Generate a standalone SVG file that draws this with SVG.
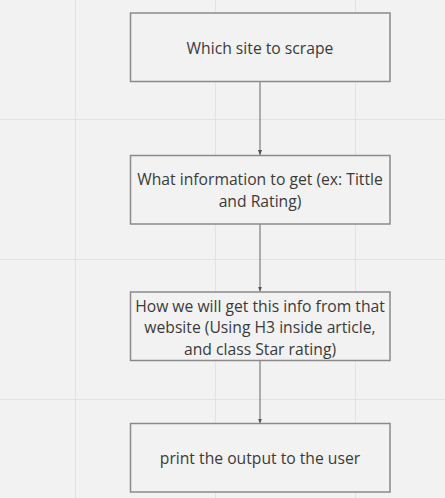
<svg xmlns="http://www.w3.org/2000/svg" width="445" height="498" viewBox="0 0 445 498">
<defs>
<style>
.grid{stroke:#e2e2e2;stroke-width:1;fill:none}
.box{fill:#f2f2f2;stroke:#8a8a8a;stroke-width:1.5}
.lbl{font-family:"Open Sans","Noto Sans",sans-serif;font-size:15.7px;fill:#3a3a3a;text-anchor:middle}
.edge{stroke:#666;stroke-width:1;fill:none;marker-end:url(#arr)}
</style>
<marker id="arr" viewBox="0 0 6 6" refX="6" refY="3" markerWidth="5" markerHeight="5" markerUnits="userSpaceOnUse" orient="auto">
<path d="M0,0.5 L6,3 L0,5.5 z" fill="#555"/>
</marker>
</defs>
<rect width="445" height="498" fill="#f2f2f2"/>
<g id="grid">
<path class="grid" d="M75.5,0V498M215.5,0V498M355.5,0V498M0,119.5H445M0,259.5H445M0,399.5H445"/>
</g>
<g id="connectors">
<path class="edge" d="M260,82V155"/>
<path class="edge" d="M260,224V291.5"/>
<path class="edge" d="M260,361V423.5"/>
</g>
<g id="n1">
<rect class="box" x="130.5" y="13" width="259.5" height="68.5"/>
<text class="lbl" x="260" y="54">Which site to scrape</text>
</g>
<g id="n2">
<rect class="box" x="130.5" y="155.5" width="259.5" height="68.5"/>
<text class="lbl" x="260" y="185">What information to get (ex: Tittle</text>
<text class="lbl" x="260" y="207">and Rating)</text>
</g>
<g id="n3">
<rect class="box" x="130.5" y="292" width="259.5" height="68.5"/>
<text class="lbl" x="260" y="311.5">How we will get this info from that</text>
<text class="lbl" x="260" y="332.5">website (Using H3 inside article,</text>
<text class="lbl" x="260" y="354.5">and class Star rating)</text>
</g>
<g id="n4">
<rect class="box" x="130.5" y="423.5" width="259.5" height="68.5"/>
<text class="lbl" x="260" y="464">print the output to the user</text>
</g>
</svg>
